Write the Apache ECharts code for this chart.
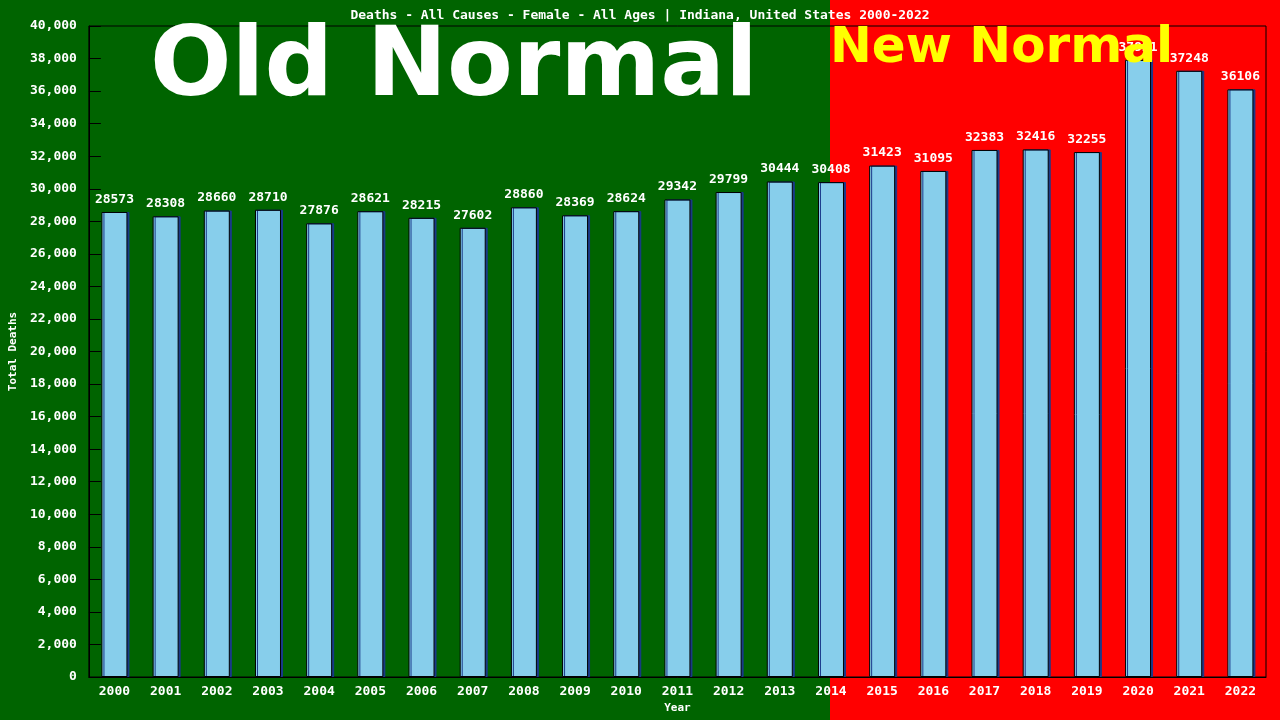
<!DOCTYPE html>
<html><head><meta charset="utf-8">
<script src="https://cdn.jsdelivr.net/npm/echarts@6/dist/echarts.min.js"></script>
<style>html,body{margin:0;padding:0;background:#006400}#c{width:1280px;height:720px}</style>
</head><body><div id="c"></div>
<script>
const years = ['2000','2001','2002','2003','2004','2005','2006','2007','2008','2009','2010','2011','2012','2013','2014','2015','2016','2017','2018','2019','2020','2021','2022'];
const deaths = [28573,28308,28660,28710,27876,28621,28215,27602,28860,28369,28624,29342,29799,30444,30408,31423,31095,32383,32416,32255,37921,37248,36106];
const yTicks = {min:0, max:40000, interval:2000};
const chart = echarts.init(document.getElementById('c'));
const mono = 'DejaVu Sans Mono';
chart.setOption({
  backgroundColor:'#006400',
  animation:false,
  graphic:[
    {type:'rect',z:-10,shape:{x:830,y:0,width:450,height:720},style:{fill:'#ff0000'}},
    {type:'text',z:100,left:150,top:22,style:{text:'Old Normal',fontFamily:'DejaVu Sans',fontWeight:'bold',fontSize:96,fill:'#fff',textShadowColor:'#00cc00',textShadowOffsetX:7,textShadowOffsetY:5,textShadowBlur:0}},
    {type:'text',z:100,left:830,top:24,style:{text:'New Normal',fontFamily:'DejaVu Sans',fontWeight:'bold',fontSize:50,fill:'#ffff00',textShadowColor:'#000',textShadowOffsetX:5,textShadowOffsetY:4,textShadowBlur:0}}
  ],
  title:{text:'Deaths - All Causes - Female - All Ages | Indiana, United States 2000-2022',left:'center',top:4,textStyle:{color:'#fff',fontFamily:mono,fontSize:13,fontWeight:'bold'}},
  grid:{left:78,right:14,top:26,bottom:43,show:true,borderColor:'#000',borderWidth:1,backgroundColor:'transparent'},
  xAxis:{type:'category',data:years,name:'Year',nameLocation:'middle',nameGap:26,nameTextStyle:{color:'#fff',fontFamily:mono,fontSize:11,fontWeight:'bold'},
    axisLine:{lineStyle:{color:'#000'}},axisTick:{show:false},axisLabel:{color:'#fff',fontFamily:mono,fontSize:13,fontWeight:'bold',margin:8}},
  yAxis:{type:'value',min:yTicks.min,max:yTicks.max,interval:yTicks.interval,name:'Total Deaths',nameLocation:'middle',nameGap:64,nameTextStyle:{color:'#fff',fontFamily:mono,fontSize:11,fontWeight:'bold'},
    axisLine:{show:true,lineStyle:{color:'#000'}},axisTick:{show:true,length:-12,lineStyle:{color:'#000'}},splitLine:{show:false},
    axisLabel:{color:'#fff',fontFamily:mono,fontSize:13,fontWeight:'bold',margin:12}},
  series:[{type:'bar',data:deaths,barWidth:26,
    itemStyle:{color:'#87ceeb',borderColor:'#000',borderWidth:1,shadowColor:'#1a3a8a',shadowOffsetX:2,shadowOffsetY:0},
    label:{show:true,position:'top',color:'#fff',fontFamily:mono,fontSize:13,fontWeight:'bold',distance:6}}]
});
</script></body></html>
